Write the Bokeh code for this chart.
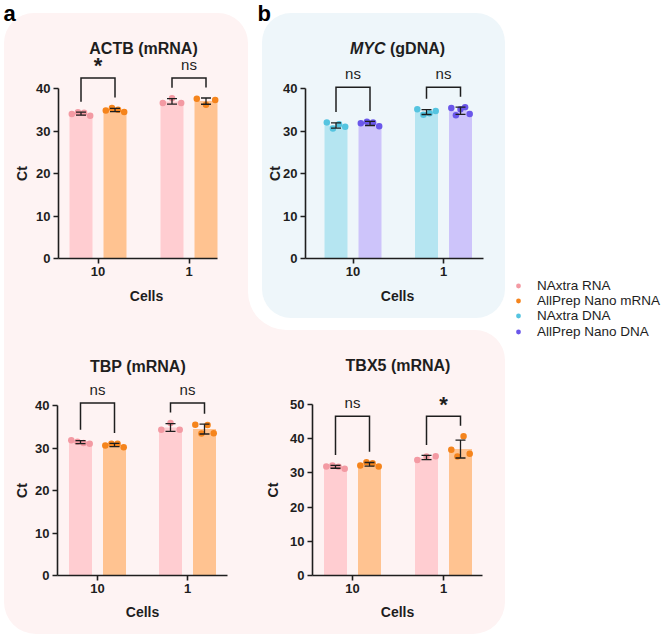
import base64
from math import pi

import numpy as np
from bokeh.core.properties import value
from bokeh.embed import file_html
from bokeh.layouts import column, row
from bokeh.models import (ColumnDataSource, FixedTicker, Label, Legend, LegendItem,
                          Range1d, TeeHead, Whisker)
from bokeh.plotting import figure
from bokeh.resources import INLINE

FONT = "Liberation Sans"
INK = "#1e1e1e"

# ---------------------------------------------------------------- data
cell_labels = ["10", "1"]
kits = ["NAxtra RNA", "AllPrep Nano mRNA", "NAxtra DNA", "AllPrep Nano DNA"]

# Ct replicates per kit, listed as [10 cells, 1 cell]
actb_naxtra = [[34.0, 34.4, 34.3, 33.6], [36.6, 37.7, 36.6]]
actb_allprep = [[34.8, 35.4, 35.0, 34.5], [37.6, 36.2, 37.3]]
myc_naxtra = [[32.0, 30.6, 31.6, 31.0], [35.1, 33.8, 34.2, 34.7]]
myc_allprep = [[31.8, 32.2, 32.0, 31.1], [35.4, 33.7, 35.1, 35.6, 34.0]]
tbp_naxtra = [[31.8, 31.5, 31.2, 31.0], [34.3, 35.9, 34.3]]
tbp_allprep = [[30.6, 31.0, 31.0, 30.2], [35.5, 33.4, 35.4, 33.5]]
tbx5_naxtra = [[31.9, 32.2, 31.8, 31.2], [33.8, 34.8, 34.9]]
tbx5_allprep = [[32.2, 33.1, 32.8, 31.9], [36.8, 34.8, 40.7, 35.6]]

# significance per cell count
sig_actb = ["*", "ns"]
sig_myc = ["ns", "ns"]
sig_tbp = ["ns", "ns"]
sig_tbx5 = ["ns", "*"]

# (bar fill, point colour) per kit
kit_colors = {
    "NAxtra RNA": ("#ffcdd1", "#f39aa3"),
    "AllPrep Nano mRNA": ("#ffc391", "#f5841c"),
    "NAxtra DNA": ("#b5e5f1", "#55c4e0"),
    "AllPrep Nano DNA": ("#cdc4fa", "#6a57ea"),
}

PINK_BG = "#fef3f3"
BLUE_BG = "#eef6fa"


def style_axis(ax):
    ax.axis_line_color = INK
    ax.axis_line_width = 1.6
    ax.major_tick_line_color = INK
    ax.major_tick_line_width = 1.6
    ax.major_tick_in = 0
    ax.major_tick_out = 5
    ax.minor_tick_line_color = None
    ax.major_label_text_font = FONT
    ax.major_label_text_font_size = "13px"
    ax.major_label_text_font_style = "bold"
    ax.major_label_text_color = INK
    ax.major_label_standoff = 3


def text_label(p, x, y, text, size, style="bold", align="center", angle=0.0,
               color=INK):
    p.add_layout(Label(x=x, y=y, text=text, angle=angle, text_font=FONT,
                       text_font_size=size, text_font_style=style, text_color=color,
                       text_align=align, text_baseline="middle"))


def panel(W, H, left, bottom, g0, gsep, ppu, ymax, axis_end,
          series, names, sig, title_parts, title_y, ct_x, cells_x, cells_y,
          tag=None):
    """One bar/point panel.  Pixel arguments are in the figure's own canvas;
    the frame fills the canvas and the axes sit at fixed data locations."""
    px = lambda v: (v - g0) / gsep          # canvas x -> data x
    py = lambda v: (bottom - v) / ppu       # canvas y -> data y
    x0 = px(left)
    p = figure(width=W, height=H, x_range=Range1d(px(0), px(W)),
               y_range=Range1d(py(H), py(0)),
               output_backend="svg", toolbar_location=None, min_border=0)
    p.background_fill_alpha = 0
    p.border_fill_alpha = 0
    p.outline_line_color = None
    p.grid.visible = False

    off = 17 / gsep
    bw = 23 / gsep
    data_tops = []
    for k, (reps, name) in enumerate(zip(series, names)):
        bar_c, dot_c = kit_colors[name]
        sgn = -1 if k == 0 else 1
        xs = [i + sgn * off for i in range(len(reps))]
        means = [float(np.mean(r)) for r in reps]
        sds = [float(np.std(r, ddof=1)) for r in reps]
        p.vbar(x=xs, top=means, width=bw, bottom=0, fill_color=bar_c, line_color=None)

        dx, dy = [], []
        for xc, r in zip(xs, reps):
            spread = np.linspace(-0.4, 0.4, len(r)) * bw
            dx += list(xc + spread)
            dy += list(r)
        p.scatter(dx, dy, size=6.5, fill_color=dot_c, line_color=None)

        src = ColumnDataSource(dict(x=xs, lo=[m - s for m, s in zip(means, sds)],
                                    hi=[m + s for m, s in zip(means, sds)]))
        wk = Whisker(base="x", lower="lo", upper="hi", source=src,
                     line_color=INK, line_width=1.3, level="annotation",
                     upper_head=TeeHead(size=10, line_color=INK, line_width=1.3),
                     lower_head=TeeHead(size=10, line_color=INK, line_width=1.3))
        p.add_layout(wk)
        data_tops.append([max(max(r), m + s) for r, m, s in zip(reps, means, sds)])

    # comparison brackets
    gap = 10.5 / ppu
    legs = [[data_tops[0][i] + gap, data_tops[1][i] + gap] for i in range(2)]
    ytop = max(max(l) for l in legs) + 9.5 / ppu
    bxs, bys = [], []
    for i in range(2):
        bxs.append([i - off, i - off, i + off, i + off])
        bys.append([legs[i][0], ytop, ytop, legs[i][1]])
    p.multi_line(bxs, bys, line_color=INK, line_width=1.5, line_join="miter")

    ns_x = [i for i in range(2) if sig[i] == "ns"]
    st_x = [i for i in range(2) if sig[i] == "*"]
    if ns_x:
        p.text(x=ns_x, y=[ytop + 13.5 / ppu] * len(ns_x), text=["ns"] * len(ns_x),
               text_font=value(FONT), text_font_size="15px", text_color=INK,
               text_align="center", text_baseline="middle")
    if st_x:
        p.text(x=st_x, y=[ytop + 12.0 / ppu] * len(st_x), text=["*"] * len(st_x),
               text_font=value(FONT), text_font_size="22px", text_font_style="bold",
               text_color=INK, text_align="center", text_baseline="middle")

    # axes, pinned at the origin of the data
    yax = p.yaxis[0]
    yax.fixed_location = x0
    yax.ticker = FixedTicker(ticks=list(range(0, ymax + 1, 10)))
    yax.bounds = (0, ymax)
    xax = p.xaxis[0]
    xax.fixed_location = 0
    xax.ticker = FixedTicker(ticks=[0, 1])
    xax.major_label_overrides = {0: cell_labels[0], 1: cell_labels[1]}
    xax.bounds = (x0, px(axis_end))
    style_axis(xax)
    style_axis(yax)

    text_label(p, px(ct_x), ymax / 2, "Ct", "14px", angle=pi / 2)
    text_label(p, px(cells_x), py(cells_y), "Cells", "14px")
    for txt, tx, align, fstyle in title_parts:
        text_label(p, px(tx), py(title_y), txt, "16px", style=fstyle, align=align)
    if tag:
        txt, tx, ty = tag
        text_label(p, px(tx), py(ty), txt, "22px", align="left", color="#000000")
    return p


rna = ["NAxtra RNA", "AllPrep Nano mRNA"]
dna = ["NAxtra DNA", "AllPrep Nano DNA"]

p_actb = panel(248, 330, 58, 258, 97.5, 91, 4.25, 40, 217,
               [actb_naxtra, actb_allprep], rna, sig_actb,
               [("ACTB (mRNA)", 143, "center", "bold")], 47.5, 21, 146, 295,
               tag=("a", 3, 12.8))
p_myc = panel(264, 330, 57, 258, 104.5, 90.5, 4.25, 40, 235,
              [myc_naxtra, myc_allprep], dna, sig_myc,
              [("MYC", 137, "right", "bold italic"), ("(gDNA)", 141.5, "left", "bold")],
              47.5, 26, 149, 295, tag=("b", 9, 12.8))
p_tbp = panel(248, 306, 57, 245, 97, 90, 4.25, 40, 227,
              [tbp_naxtra, tbp_allprep], rna, sig_tbp,
              [("TBP (mRNA)", 137.5, "center", "bold")], 35.8, 21, 142, 281.7)
p_tbx5 = panel(264, 306, 64, 245, 104, 91, 3.42, 50, 234,
               [tbx5_naxtra, tbx5_allprep], rna, sig_tbx5,
               [("TBX5 (mRNA)", 149.5, "center", "bold")], 34.5, 24.5, 149, 281.7)

# legend column: one single-entry legend per kit, stacked one row apart
LEG_FONT_PX = 13.5
LEG_ROW = 15.2
LEG_MID = 308.3
p_leg = figure(width=157, height=636, x_range=Range1d(0, 1), y_range=Range1d(0, 1),
               output_backend="svg", toolbar_location=None,
               x_axis_location=None, y_axis_location=None, min_border=0)
p_leg.background_fill_alpha = 0
p_leg.border_fill_alpha = 0
p_leg.outline_line_color = None
p_leg.grid.visible = False
for k, name in enumerate(kits):
    r = p_leg.scatter(x=[np.nan], y=[np.nan], size=6, fill_color=kit_colors[name][1],
                      line_color=None)
    row_center = LEG_MID + (k - 1.5) * LEG_ROW
    leg = Legend(items=[LegendItem(label=name, renderers=[r])],
                 location=(0, 636 - row_center - 7.5), margin=0, padding=0, spacing=0,
                 glyph_width=12, glyph_height=15, label_height=15, label_standoff=13,
                 label_text_font=FONT, label_text_font_size=f"{LEG_FONT_PX}px",
                 label_text_color=INK, border_line_color=None,
                 background_fill_alpha=0)
    p_leg.add_layout(leg)

# rounded background areas grouping the mRNA and gDNA panels
bg_svg = (
    '<svg xmlns="http://www.w3.org/2000/svg" width="669" height="636">'
    f'<path fill="{PINK_BG}" d="M34,13 H218 A30,30 0 0 1 248,43 V292 '
    'A38,38 0 0 0 286,330 H475 A30,30 0 0 1 505,360 V602 A32,32 0 0 1 473,634 '
    'H36 A32,32 0 0 1 4,602 V43 A30,30 0 0 1 34,13 Z"/>'
    f'<rect x="262" y="13" width="243" height="305" rx="29" fill="{BLUE_BG}"/>'
    '</svg>'
)
bg_uri = "data:image/svg+xml;base64," + base64.b64encode(bg_svg.encode()).decode()

layout = row(column(p_actb, p_tbp), column(p_myc, p_tbx5), p_leg,
             styles={"background-image": f"url('{bg_uri}')",
                     "background-repeat": "no-repeat",
                     "background-size": "669px 636px"})

open("out.html", "w").write(file_html(layout, INLINE))
